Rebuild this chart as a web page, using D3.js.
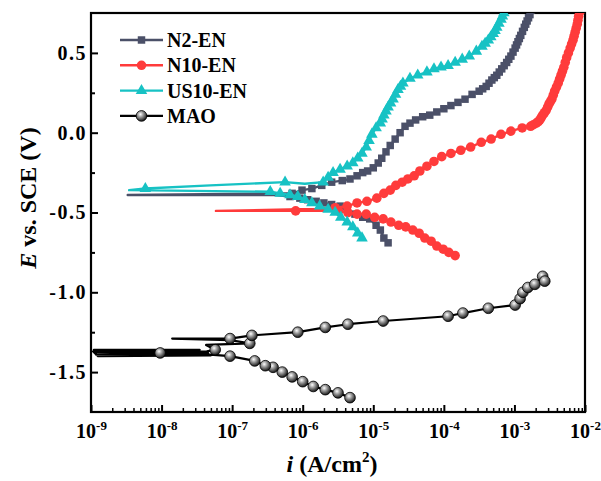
<!DOCTYPE html>
<html>
<head>
<meta charset="utf-8">
<script src="https://cdn.jsdelivr.net/npm/d3@7"></script>
<style>
  body { margin: 0; background: #fff; }
  text { font-family: "Liberation Serif", "Times New Roman", serif; font-weight: bold; fill: #000; }
</style>
</head>
<body>
<div id="chart"></div>
<script>
// Tafel curves, each point = [log10 i (A/cm2), E vs SCE (V)], 3rd value 0 = no symbol
const n2EN = [
  [-4.79,-0.69],[-4.85,-0.66],[-4.90,-0.61],[-4.96,-0.58],[-5.05,-0.54],[-5.15,-0.53],
  [-5.26,-0.51],[-5.37,-0.48],[-5.47,-0.46],[-5.59,-0.45],[-5.70,-0.44],[-5.81,-0.43],
  [-5.93,-0.42],[-6.04,-0.41],[-6.18,-0.40],[-6.39,-0.39,0],[-6.75,-0.39,0],[-8.48,-0.39,0],
  [-6.29,-0.38,0],[-6.15,-0.38],[-6.01,-0.36],[-5.87,-0.35],[-5.73,-0.33],[-5.59,-0.31],
  [-5.44,-0.30],[-5.33,-0.29],[-5.23,-0.27],[-5.15,-0.25],[-5.08,-0.24],[-5.00,-0.22],
  [-4.93,-0.19],[-4.88,-0.16],[-4.82,-0.12],[-4.76,-0.08],[-4.69,-0.04],[-4.62,0.00],
  [-4.55,0.04],[-4.48,0.06],[-4.40,0.08],[-4.30,0.10],[-4.20,0.11],[-4.10,0.13],
  [-4.00,0.15],[-3.90,0.17],[-3.80,0.19],[-3.70,0.21],[-3.60,0.24],[-3.50,0.26],
  [-3.45,0.275],[-3.40,0.29],[-3.36,0.31],[-3.32,0.33],[-3.285,0.345],[-3.25,0.36],
  [-3.215,0.38],[-3.18,0.40],[-3.145,0.42],[-3.11,0.44],[-3.08,0.46],[-3.05,0.48],
  [-3.02,0.505],[-2.99,0.53],[-2.97,0.55],[-2.95,0.57],[-2.93,0.59],[-2.91,0.61],
  [-2.885,0.635],[-2.86,0.66],[-2.84,0.68],[-2.82,0.70],[-2.80,0.72],[-2.78,0.74],[-2.76,0.77]
];
const n10EN = [
  [-3.84,-0.77],[-3.93,-0.75],[-4.01,-0.73],[-4.10,-0.71],[-4.18,-0.68],[-4.27,-0.66],
  [-4.35,-0.63],[-4.44,-0.61],[-4.54,-0.59],[-4.64,-0.58],[-4.75,-0.56],[-4.86,-0.54],
  [-4.98,-0.53],[-5.10,-0.51],[-5.23,-0.51],[-5.36,-0.50],[-5.49,-0.49],[-5.61,-0.49,0],
  [-5.78,-0.49,0],[-6.10,-0.49],[-7.23,-0.49,0],[-6.04,-0.48,0],[-5.71,-0.48,0],
  [-5.54,-0.47],[-5.37,-0.46],[-5.23,-0.44],[-5.09,-0.43],[-4.95,-0.41],[-4.85,-0.38],
  [-4.76,-0.36],[-4.68,-0.33],[-4.59,-0.31],[-4.51,-0.29],[-4.42,-0.27],[-4.34,-0.24],
  [-4.24,-0.21],[-4.14,-0.18],[-4.03,-0.15],[-3.90,-0.13],[-3.76,-0.11],[-3.62,-0.09],
  [-3.47,-0.06],[-3.33,-0.04],[-3.19,-0.01],[-3.05,0.01],[-2.89,0.03],[-2.77,0.04],
  [-2.73,0.05],[-2.69,0.06],[-2.66,0.07],[-2.64,0.08],[-2.62,0.095],[-2.60,0.11],
  [-2.575,0.125],[-2.55,0.14],[-2.53,0.16],[-2.51,0.18],[-2.49,0.195],[-2.47,0.21],
  [-2.45,0.235],[-2.43,0.26],[-2.405,0.285],[-2.38,0.31],[-2.36,0.335],[-2.34,0.36],
  [-2.32,0.385],[-2.30,0.41],[-2.28,0.44],[-2.26,0.47],[-2.235,0.50],[-2.21,0.53],
  [-2.19,0.555],[-2.17,0.58],[-2.155,0.605],[-2.14,0.63],[-2.125,0.655],[-2.11,0.68],
  [-2.10,0.705],[-2.09,0.73],[-2.07,0.76]
];
const us10EN = [
  [-5.16,-0.66],[-5.22,-0.63],[-5.29,-0.59],[-5.37,-0.56],[-5.46,-0.53],[-5.54,-0.50],
  [-5.64,-0.48],[-5.76,-0.46],[-5.87,-0.44],[-5.97,-0.42],[-6.07,-0.40],[-6.18,-0.39],
  [-6.32,-0.38],[-6.46,-0.37],[-8.46,-0.36,0],[-8.23,-0.35],[-7.31,-0.33,0],[-6.25,-0.31],
  [-5.97,-0.32,0],[-5.71,-0.31],[-5.64,-0.28],[-5.57,-0.25],[-5.47,-0.23],[-5.37,-0.21],
  [-5.29,-0.19],[-5.22,-0.16],[-5.16,-0.13],[-5.10,-0.09],[-5.06,-0.05],[-5.02,-0.01],
  [-4.96,0.03],[-4.90,0.06],[-4.875,0.085],[-4.85,0.11],[-4.82,0.135],[-4.79,0.16],
  [-4.755,0.185],[-4.72,0.21],[-4.685,0.24],[-4.65,0.27],[-4.615,0.29],[-4.58,0.31],
  [-4.48,0.34],[-4.37,0.36],[-4.24,0.38],[-4.14,0.40],[-4.04,0.41],[-3.94,0.42],
  [-3.84,0.44],[-3.74,0.46],[-3.64,0.48],[-3.54,0.51],[-3.46,0.54],[-3.415,0.56],
  [-3.37,0.58],[-3.335,0.60],[-3.30,0.62],[-3.275,0.64],[-3.25,0.66],[-3.22,0.685],
  [-3.19,0.71],[-3.17,0.73],[-3.15,0.75],[-3.12,0.78]
];
const mao = [
  [-5.33,-1.66],[-5.50,-1.63],[-5.68,-1.61],[-5.85,-1.59],[-6.00,-1.56],[-6.15,-1.53],
  [-6.29,-1.50],[-6.42,-1.47],[-6.53,-1.46],[-6.68,-1.43],[-7.03,-1.40],[-7.31,-1.39,0],
  [-8.90,-1.40,0],[-8.97,-1.37,0],[-7.38,-1.38,0],[-8.93,-1.39,0],[-7.30,-1.395,0],
  [-8.88,-1.40,0],[-7.42,-1.375,0],[-8.95,-1.365,0],[-8.02,-1.38],
  [-7.34,-1.38,0],[-8.96,-1.36,0],[-7.46,-1.36,0],[-8.94,-1.375,0],[-7.36,-1.37,0],
  [-7.24,-1.36],[-7.37,-1.33,0],
  [-6.75,-1.32],[-7.03,-1.30,0],[-7.85,-1.29,0],[-7.03,-1.29],[-6.72,-1.27],[-6.07,-1.25],
  [-5.68,-1.22],[-5.36,-1.20],[-4.86,-1.18],[-3.94,-1.15],[-3.73,-1.13],[-3.37,-1.10],
  [-2.99,-1.08],[-2.92,-1.04],[-2.88,-1.00],[-2.81,-0.97],[-2.71,-0.95],[-2.60,-0.90],
  [-2.57,-0.93]
];

const seriesNames = ["N2-EN", "N10-EN", "US10-EN", "MAO"];
const xTickExps = [-9, -8, -7, -6, -5, -4, -3, -2];
const yTicks = [-1.5, -1.0, -0.5, 0.0, 0.5];
const yMinorTicks = [-1.25, -0.75, -0.25, 0.25];

const W = 601, H = 481;
const margin = { top: 13, right: 16, bottom: 69, left: 91 };
const iw = W - margin.left - margin.right;
const ih = H - margin.top - margin.bottom;

const svg = d3.select("#chart").append("svg")
  .attr("width", W).attr("height", H);

const defs = svg.append("defs");
const ball = defs.append("radialGradient").attr("id", "ball")
  .attr("cx", "0.4").attr("cy", "0.35").attr("r", "0.65");
ball.append("stop").attr("offset", "0").attr("stop-color", "#ffffff");
ball.append("stop").attr("offset", "0.35").attr("stop-color", "#a8a8a8");
ball.append("stop").attr("offset", "1").attr("stop-color", "#161616");
defs.append("clipPath").attr("id", "plotClip")
  .append("rect").attr("width", iw).attr("height", ih);

const g = svg.append("g").attr("transform", `translate(${margin.left},${margin.top})`);

const x = d3.scaleLog().domain([1e-9, 1e-2]).range([0, iw]);
const y = d3.scaleLinear().domain([-1.75, 0.75]).range([ih, 0]);

// ===== axes (ticks inward) =====
const xMinor = [];
xTickExps.slice(0, -1).forEach(e => { for (let k = 2; k <= 9; k++) xMinor.push(k * Math.pow(10, e)); });

g.append("g").attr("transform", `translate(0,${ih})`)
  .call(d3.axisBottom(x).tickValues(xMinor).tickSize(-4).tickFormat(""))
  .call(a => a.select(".domain").remove())
  .selectAll("line").attr("stroke-width", 1.5);

const xAx = g.append("g").attr("transform", `translate(0,${ih})`)
  .call(d3.axisBottom(x).tickValues(xTickExps.map(e => Math.pow(10, e))).tickSize(-7).tickFormat(""))
  .call(a => a.select(".domain").remove());
xAx.selectAll("line").attr("stroke-width", 2);
xAx.selectAll(".tick").each(function (d) {
  const t = d3.select(this).append("text")
    .attr("y", 26).attr("text-anchor", "middle").style("font-size", "20px");
  t.append("tspan").text("10");
  t.append("tspan").attr("dy", -8).style("font-size", "13px")
    .text("-" + Math.abs(Math.round(Math.log10(d))));
});

g.append("g")
  .call(d3.axisLeft(y).tickValues(yMinorTicks).tickSize(-4).tickFormat(""))
  .call(a => a.select(".domain").remove())
  .selectAll("line").attr("stroke-width", 2);

const yAx = g.append("g")
  .call(d3.axisLeft(y).tickValues(yTicks).tickSize(-7).tickPadding(4).tickFormat(d => d.toFixed(1)))
  .call(a => a.select(".domain").remove());
yAx.selectAll("line").attr("stroke-width", 2);
yAx.selectAll("text")
  .attr("fill", "#000")
  .style("font-size", "20px")
  .style("letter-spacing", "1.5px")
  .style("font-family", "Liberation Serif, serif")
  .style("font-weight", "bold");

// frame
g.append("rect").attr("width", iw).attr("height", ih)
  .attr("fill", "none").attr("stroke", "#000").attr("stroke-width", 2.2);

// ===== series =====
const series = [
  { name: seriesNames[0], data: n2EN,   color: "#4b5068", symbol: d3.symbolSquare,   size: 56, width: 2.4 },
  { name: seriesNames[1], data: n10EN,  color: "#ff3b3b", symbol: d3.symbolCircle,   size: 72, width: 2.4 },
  { name: seriesNames[2], data: us10EN, color: "#17c2c4", symbol: d3.symbolTriangle, size: 58, width: 2.4 },
  { name: seriesNames[3], data: mao,    color: "#000000", symbol: d3.symbolCircle,   size: 90, width: 2.2, ball: true }
];

const line = d3.line()
  .x(d => x(Math.pow(10, d[0])))
  .y(d => y(d[1]));

const plot = g.append("g").attr("clip-path", "url(#plotClip)");
series.forEach(s => {
  const sg = plot.append("g");
  sg.append("path").datum(s.data)
    .attr("d", line)
    .attr("fill", "none")
    .attr("stroke", s.color)
    .attr("stroke-width", s.width)
    .attr("stroke-linejoin", "round");
  sg.selectAll("path.sym")
    .data(s.data.filter(d => d[2] !== 0))
    .enter().append("path")
      .attr("class", "sym")
      .attr("d", d3.symbol().type(s.symbol).size(s.size))
      .attr("transform", d => `translate(${x(Math.pow(10, d[0]))},${y(d[1])})`)
      .attr("fill", s.ball ? "url(#ball)" : s.color)
      .attr("stroke", s.ball ? "#000" : "none")
      .attr("stroke-width", 0.8);
});

// ===== legend =====
const legend = svg.append("g").attr("transform", "translate(120,40)");
series.forEach((s, i) => {
  const row = legend.append("g").attr("transform", `translate(0,${i * 25.3})`);
  row.append("line").attr("x1", 0).attr("x2", 43)
    .attr("stroke", s.color).attr("stroke-width", s.width);
  row.append("path")
    .attr("d", d3.symbol().type(s.symbol).size(s.size))
    .attr("transform", "translate(21.5,0)")
    .attr("fill", s.ball ? "url(#ball)" : s.color)
    .attr("stroke", s.ball ? "#000" : "none")
    .attr("stroke-width", 0.8);
  row.append("text").attr("x", 47).attr("dy", "0.35em")
    .style("font-size", "20px").text(s.name);
});

// ===== axis titles =====
const yt = svg.append("text")
  .attr("transform", "translate(36,198) rotate(-90)")
  .attr("text-anchor", "middle").style("font-size", "24px");
yt.append("tspan").style("font-style", "italic").text("E");
yt.append("tspan").text(" vs. SCE (V)");

const xt = svg.append("text")
  .attr("x", 332).attr("y", 472)
  .attr("text-anchor", "middle").style("font-size", "24px");
xt.append("tspan").style("font-style", "italic").text("i");
xt.append("tspan").text(" (A/cm");
xt.append("tspan").attr("dy", -10).style("font-size", "15px").text("2");
xt.append("tspan").attr("dy", 10).text(")");
</script>
</body>
</html>
